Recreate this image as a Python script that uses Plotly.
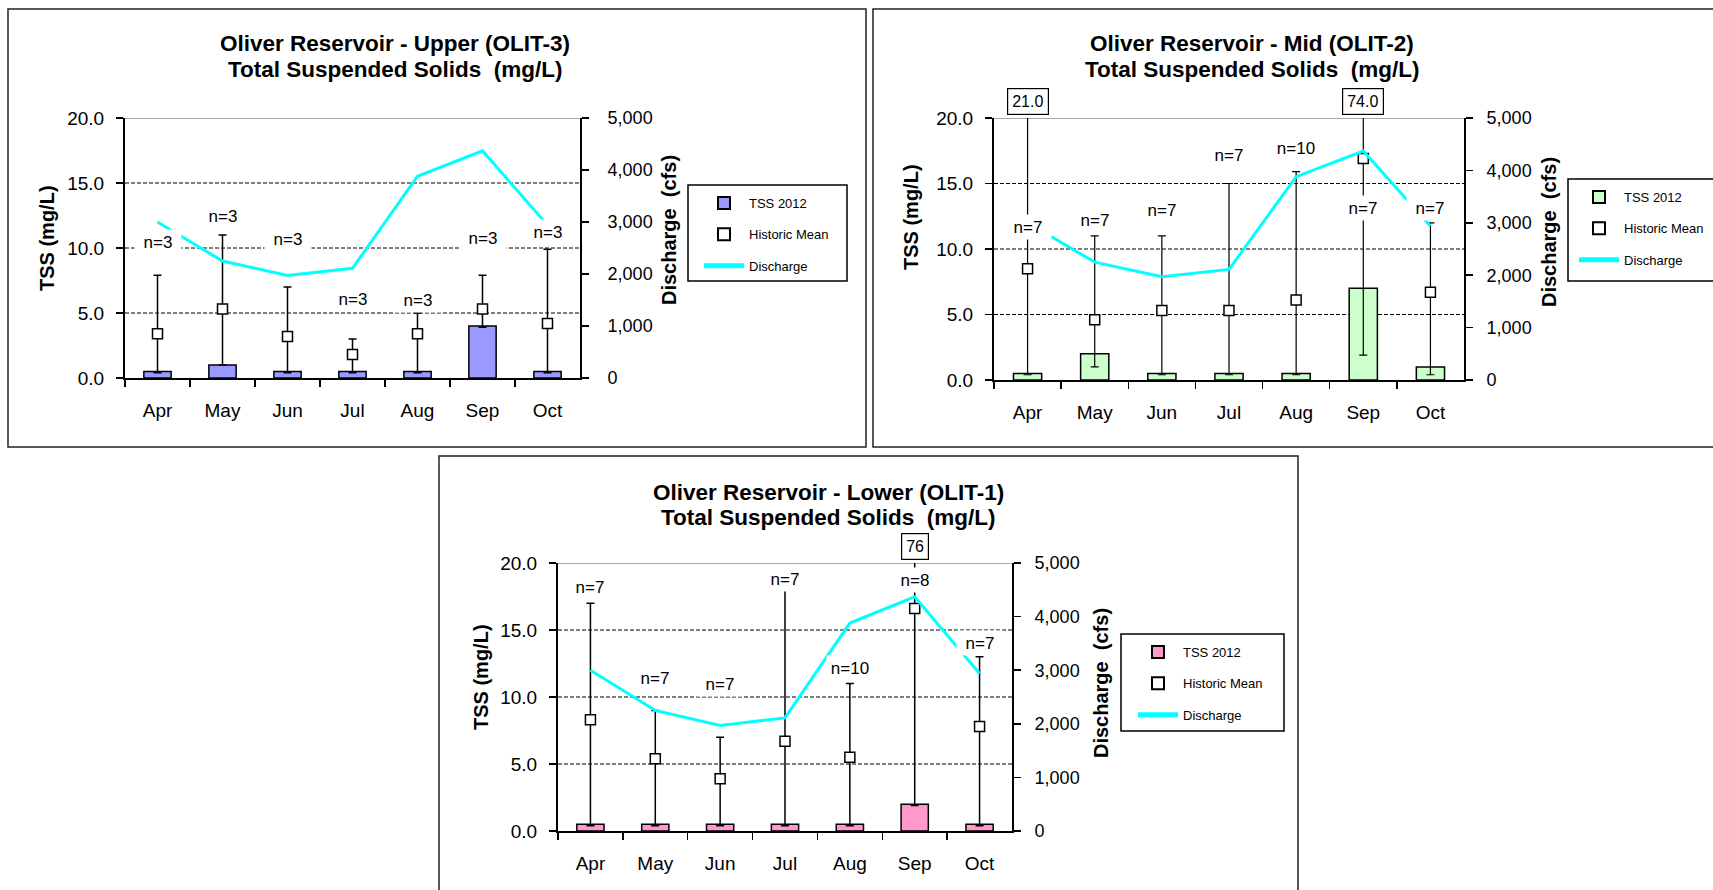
import plotly.graph_objects as go

# ---------------- data ----------------
months = ["Apr", "May", "Jun", "Jul", "Aug", "Sep", "Oct"]
discharge_cfs = [3000, 2250, 1970, 2110, 3880, 4370, 2940]

upper_tss_2012 = [0.5, 1.0, 0.5, 0.5, 0.5, 4.0, 0.5]
upper_hist_mean = [3.4, 5.3, 3.2, 1.8, 3.4, 5.3, 4.2]
upper_hist_max = [7.9, 11.0, 7.0, 3.0, 5.0, 7.9, 9.9]
upper_hist_min = [0.4, 1.0, 0.4, 0.4, 0.4, 3.9, 0.4]
upper_n = [3, 3, 3, 3, 3, 3, 3]

mid_tss_2012 = [0.5, 2.0, 0.5, 0.5, 0.5, 7.0, 1.0]
mid_hist_mean = [8.5, 4.6, 5.3, 5.3, 6.1, 16.9, 6.7]
mid_hist_max = [21.0, 11.0, 11.0, 15.0, 15.9, 74.0, 12.0]
mid_hist_min = [0.4, 1.0, 0.4, 0.4, 0.4, 1.9, 0.4]
mid_n = [7, 7, 7, 7, 10, 7, 7]

lower_tss_2012 = [0.5, 0.5, 0.5, 0.5, 0.5, 2.0, 0.5]
lower_hist_mean = [8.3, 5.4, 3.9, 6.7, 5.5, 16.6, 7.8]
lower_hist_max = [17.0, 9.0, 7.0, 18.0, 11.0, 76.0, 13.0]
lower_hist_min = [0.4, 0.4, 0.4, 0.4, 0.4, 1.9, 0.4]
lower_n = [7, 7, 7, 7, 10, 8, 7]

# ---------------- layout constants ----------------
W, H = 1713, 890
FONT = "Liberation Sans, Arial, sans-serif"
Y_MAX = 20
Q_MAX = 5000

# vertical placement (in TSS units) of the "n=" labels
upper_nlabel_y = [10.5, 12.5, 10.7, 6.1, 6.0, 10.8, 11.2]
mid_nlabel_y = [11.7, 12.2, 13.0, 17.2, 17.7, 13.1, 13.1]
lower_nlabel_y = [18.2, 11.4, 11.0, 18.8, 12.2, 18.7, 14.0]


def fx(p):
    return p / W


def fy(p):
    return 1 - p / H


panels = [
    dict(title="Oliver Reservoir - Upper (OLIT-3)", tss=upper_tss_2012, mean=upper_hist_mean,
         mx=upper_hist_max, mn=upper_hist_min, n=upper_n, ny=upper_nlabel_y, color="#9999FF",
         xa="x", ya="y", ya2="y2", leg="legend", over_fmt="{:.1f}", ebw=1.5, rstand=15,
         dom_x=(125, 580), dom_y=(118, 378), frame=(8, 9, 866, 447),
         title_xy=(395, 43, 69), ltitle=(47, 238), rtitle=(669, 230),
         legbox=(688, 185, 847, 281), leg_text_x=749, leg_first_y=202),
    dict(title="Oliver Reservoir - Mid (OLIT-2)", tss=mid_tss_2012, mean=mid_hist_mean,
         mx=mid_hist_max, mn=mid_hist_min, n=mid_n, ny=mid_nlabel_y, color="#CCFFCC",
         xa="x2", ya="y3", ya2="y4", leg="legend2", over_fmt="{:.1f}", ebw=1.2, rstand=10,
         dom_x=(994, 1464), dom_y=(118, 380), frame=(873, 9, 1740, 447),
         title_xy=(1252, 43, 69), ltitle=(911, 217), rtitle=(1549, 232),
         legbox=(1568, 179, 1740, 281), leg_text_x=1624, leg_first_y=196),
    dict(title="Oliver Reservoir - Lower (OLIT-1)", tss=lower_tss_2012, mean=lower_hist_mean,
         mx=lower_hist_max, mn=lower_hist_min, n=lower_n, ny=lower_nlabel_y, color="#FF99CC",
         xa="x3", ya="y5", ya2="y6", leg="legend3", over_fmt="{:.0f}", ebw=1.5, rstand=10,
         dom_x=(558, 1012), dom_y=(563, 831), frame=(439, 456, 1298, 900),
         title_xy=(828, 492, 517), ltitle=(481, 677), rtitle=(1101, 683),
         legbox=(1121, 634, 1284, 731), leg_text_x=1183, leg_first_y=651),
]

fig = go.Figure()
shapes = []
annotations = []
layout_axes = {}
legends = {}


def axkey(ref):
    return ref[0] + "axis" + ref[1:]


for p in panels:
    xa, ya, ya2, leg = p["xa"], p["ya"], p["ya2"], p["leg"]
    fig.add_trace(go.Bar(
        x=months, y=p["tss"], name="TSS 2012", width=0.42,
        marker=dict(color=p["color"], line=dict(color="black", width=1.5)),
        xaxis=xa, yaxis=ya, legend=leg, legendgroup=leg + "a", hoverinfo="skip"))
    fig.add_trace(go.Scatter(
        x=months, y=p["mean"], name="Historic Mean", mode="markers",
        marker=dict(symbol="square", size=10, color="white", line=dict(color="black", width=1.5)),
        error_y=dict(type="data", symmetric=False,
                     array=[a - m for a, m in zip(p["mx"], p["mean"])],
                     arrayminus=[m - b for m, b in zip(p["mean"], p["mn"])],
                     color="black", thickness=p["ebw"], width=4),
        xaxis=xa, yaxis=ya, legend=leg, legendgroup=leg + "b", hoverinfo="skip"))
    fig.add_trace(go.Scatter(
        x=months, y=discharge_cfs, name="Discharge", mode="lines",
        line=dict(color="#00FFFF", width=3),
        xaxis=xa, yaxis=ya2, legend=leg, legendgroup=leg + "c", hoverinfo="skip"))

    x0, x1 = p["dom_x"]
    yt, yb = p["dom_y"]
    layout_axes[axkey(xa)] = dict(
        domain=[fx(x0), fx(x1)], anchor=ya, type="category", range=[-0.5, 6.5],
        tickson="boundaries", ticks="outside", ticklen=7, tickwidth=1.5, tickcolor="black",
        showline=True, linecolor="black", linewidth=2, showgrid=False,
        tickfont=dict(family=FONT, size=19, color="black"), ticklabelstandoff=14,
        fixedrange=True, automargin=False)
    layout_axes[axkey(ya)] = dict(
        domain=[fy(yb), fy(yt)], anchor=xa, range=[0, Y_MAX],
        tickvals=[0, 5, 10, 15, 20], tickformat=".1f",
        ticks="outside", ticklen=7, tickwidth=1.5, tickcolor="black",
        showline=True, linecolor="black", linewidth=2, showgrid=False, zeroline=False,
        tickfont=dict(family=FONT, size=19, color="black"), ticklabelstandoff=8,
        fixedrange=True, automargin=False)
    layout_axes[axkey(ya2)] = dict(
        overlaying=ya, side="right", anchor=xa, range=[0, Q_MAX],
        tickvals=[0, 1000, 2000, 3000, 4000, 5000], tickformat=",d",
        ticks="outside", ticklen=7, tickwidth=1.5, tickcolor="black",
        showline=True, linecolor="black", linewidth=2, showgrid=False, zeroline=False,
        tickfont=dict(family=FONT, size=18, color="black"), ticklabelstandoff=p["rstand"],
        fixedrange=True, automargin=False)

    # gridlines
    for g in (5, 10, 15):
        shapes.append(dict(type="line", xref=xa + " domain", yref=ya, x0=0, x1=1, y0=g, y1=g,
                           line=dict(color="black", width=1, dash="4px,2px"), layer="below"))
    shapes.append(dict(type="line", xref=xa + " domain", yref=ya, x0=0, x1=1, y0=Y_MAX, y1=Y_MAX,
                       line=dict(color="#8c8c8c", width=1.5), layer="below"))
    # panel frame
    fx0, fy0, fx1, fy1 = p["frame"]
    shapes.append(dict(type="rect", xref="paper", yref="paper", x0=fx(fx0), x1=fx(fx1),
                       y0=fy(fy1), y1=fy(fy0), line=dict(color="#222", width=1.5)))
    # legend box
    lx0, ly0, lx1, ly1 = p["legbox"]
    shapes.append(dict(type="rect", xref="paper", yref="paper", x0=fx(lx0), x1=fx(lx1),
                       y0=fy(ly1), y1=fy(ly0), line=dict(color="black", width=1.5),
                       fillcolor="white", layer="below"))
    legends[leg] = dict(
        x=fx(p["leg_text_x"] - 50), y=fy(p["leg_first_y"] - 14), xanchor="left", yanchor="top",
        bgcolor="rgba(0,0,0,0)", borderwidth=0, font=dict(family=FONT, size=13, color="black"),
        tracegroupgap=11.5, itemwidth=40, itemsizing="constant", itemclick=False,
        itemdoubleclick=False)

    # titles (two lines)
    tx, ty1, ty2 = p["title_xy"]
    for txt, tyy in ((p["title"], ty1), ("Total Suspended Solids  (mg/L)", ty2)):
        annotations.append(dict(
            text="<b>" + txt + "</b>", xref="paper", yref="paper",
            x=fx(tx), y=fy(tyy), xanchor="center", yanchor="middle", showarrow=False,
            font=dict(family=FONT, size=22.5, color="black")))
    lx, lyy = p["ltitle"]
    annotations.append(dict(text="<b>TSS (mg/L)</b>", xref="paper", yref="paper", x=fx(lx), y=fy(lyy),
                            textangle=-90, showarrow=False, xanchor="center", yanchor="middle",
                            font=dict(family=FONT, size=20, color="black")))
    rx, ry = p["rtitle"]
    annotations.append(dict(text="<b>Discharge  (cfs)</b>", xref="paper", yref="paper", x=fx(rx), y=fy(ry),
                            textangle=-90, showarrow=False, xanchor="center", yanchor="middle",
                            font=dict(family=FONT, size=20, color="black")))

    # n= labels
    for m, n, ypos in zip(months, p["n"], p["ny"]):
        annotations.append(dict(text=f"n={n}", x=m, y=ypos, xref=xa, yref=ya, showarrow=False,
                                bgcolor="white", borderpad=3, width=40, height=18,
                                font=dict(family=FONT, size=17, color="black")))
    # off-scale maxima boxes
    for m, v in zip(months, p["mx"]):
        if v > Y_MAX:
            annotations.append(dict(text=p["over_fmt"].format(v), x=m, y=1, xref=xa, yref=ya + " domain",
                                    yanchor="bottom", yshift=3, showarrow=False, bgcolor="white",
                                    bordercolor="black", borderwidth=1.2, borderpad=4,
                                    font=dict(family=FONT, size=16, color="black")))

fig.update_layout(
    width=W, height=H, margin=dict(l=0, r=0, t=0, b=0, pad=0, autoexpand=False),
    paper_bgcolor="white", plot_bgcolor="white",
    font=dict(family=FONT, color="black"),
    barmode="overlay", showlegend=True,
    shapes=shapes, annotations=annotations,
    **layout_axes, **legends)

fig.write_html("out.html", config={"displayModeBar": False, "staticPlot": True},
               post_script="document.body.style.margin='0';document.body.style.overflow='hidden';")
